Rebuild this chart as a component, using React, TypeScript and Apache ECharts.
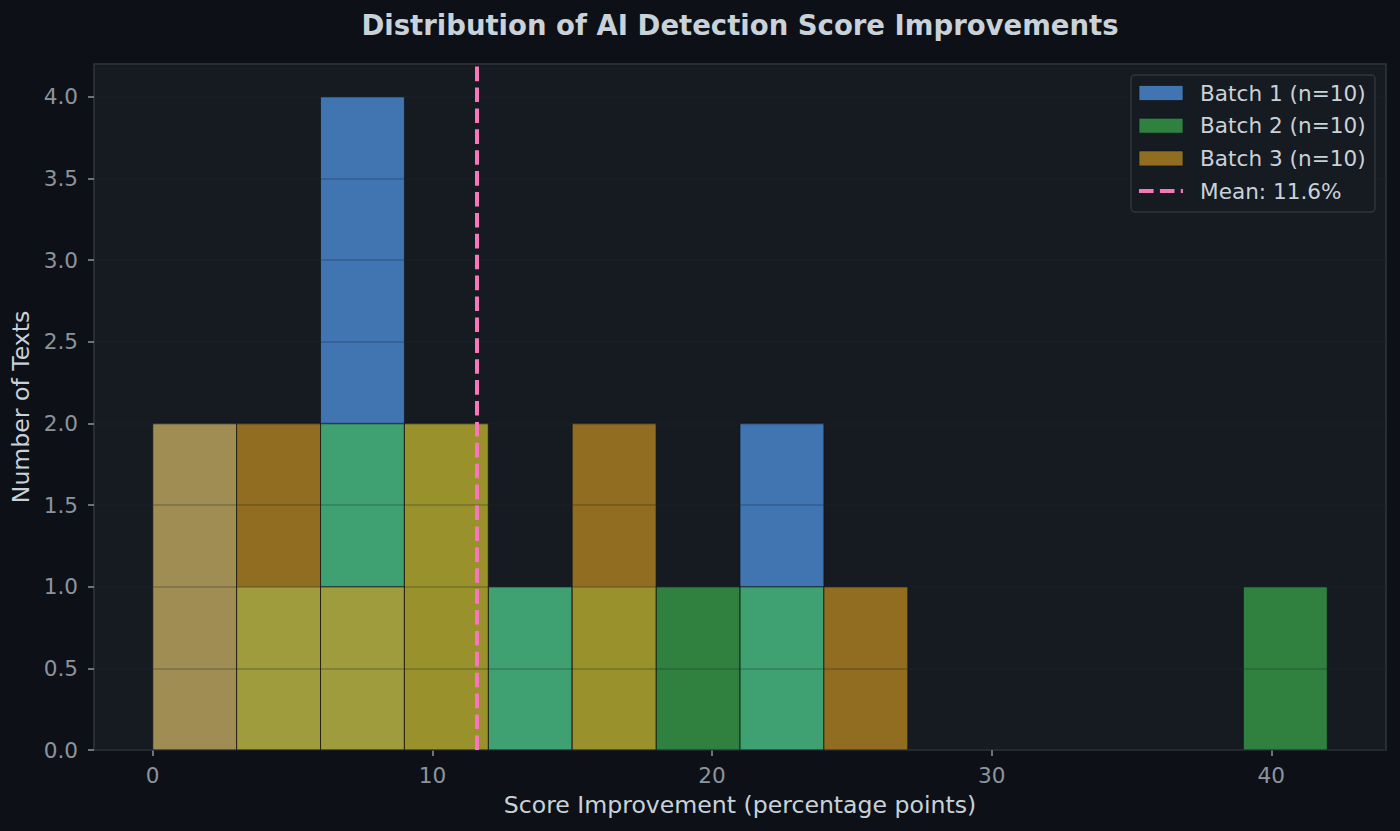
import React, { useEffect, useRef } from "react";
import * as echarts from "echarts";

// histogram bins (percentage points) and counts per batch
const binEdges = [0, 3, 6, 9, 12, 15, 18, 21, 24, 27, 30, 33, 36, 39, 42];
const batchNames = ["Batch 1 (n=10)", "Batch 2 (n=10)", "Batch 3 (n=10)"];
const batch1Counts = [2, 1, 4, 0, 1, 0, 0, 2, 0, 0, 0, 0, 0, 0];
const batch2Counts = [0, 1, 2, 2, 1, 1, 1, 1, 0, 0, 0, 0, 0, 1];
const batch3Counts = [2, 2, 1, 2, 0, 2, 0, 0, 1, 0, 0, 0, 0, 0];
const batchColors = ["#58a6ff", "#3fb950", "#d29922"];
const meanValue = 11.6;
const meanLabel = "Mean: 11.6%";
const xTicks = [0, 10, 20, 30, 40];
const yTicks = [0, 0.5, 1, 1.5, 2, 2.5, 3, 3.5, 4];

const FONT = "DejaVu Sans";
const TEXT = "#c9d1d9";
const MUTED = "#8b949e";
const BORDER = "#30363d";
const ALPHA = 0.65;
const MEAN_COLOR = "#f778ba";
const DASH = [14.6, 6.3];

const HistogramChart: React.FC = () => {
  const chartRef = useRef<HTMLDivElement>(null);

  useEffect(() => {
    if (!chartRef.current) return;
    const chart = echarts.init(chartRef.current, null, { renderer: "svg" });

    const allCounts = [batch1Counts, batch2Counts, batch3Counts];
    const barSeries = allCounts.map((counts, i) => ({
      type: "custom",
      name: batchNames[i],
      data: counts.map((n, k) => [binEdges[k], binEdges[k + 1], n]),
      encode: { x: [0, 1], y: 2 },
      renderItem: (_params: any, api: any) => {
        const n = api.value(2);
        if (!n) return null;
        const p0 = api.coord([api.value(0), n]);
        const p1 = api.coord([api.value(1), 0]);
        return {
          type: "rect",
          shape: { x: p0[0], y: p0[1], width: p1[0] - p0[0], height: p1[1] - p0[1] },
          style: { fill: batchColors[i], stroke: "#0d1117", lineWidth: 1, opacity: ALPHA },
        };
      },
    }));

    // legend drawn by hand, matplotlib style, kept above the grid lines
    const rowY = (i: number) => 93 + i * 32.7;
    const legendEls: any[] = [
      {
        type: "rect",
        z: 100,
        zlevel: 1,
        shape: { x: 1131, y: 75, width: 244, height: 137, r: 4 },
        style: { fill: "rgba(22,27,34,0.92)", stroke: BORDER, lineWidth: 1.5 },
      },
    ];
    batchNames.forEach((name, i) => {
      legendEls.push({
        type: "rect",
        z: 101,
        zlevel: 1,
        shape: { x: 1139, y: rowY(i) - 7.5, width: 44, height: 15 },
        style: { fill: batchColors[i], stroke: "#0d1117", lineWidth: 1, opacity: ALPHA },
      });
      legendEls.push({
        type: "text",
        z: 101,
        zlevel: 1,
        x: 1200,
        y: rowY(i),
        style: { text: name, fill: TEXT, font: `21.6px '${FONT}'`, verticalAlign: "middle" },
      });
    });
    legendEls.push({
      type: "line",
      z: 101,
      zlevel: 1,
      shape: { x1: 1139, y1: rowY(3), x2: 1183, y2: rowY(3) },
      style: { stroke: MEAN_COLOR, lineWidth: 4, lineDash: DASH },
    });
    legendEls.push({
      type: "text",
      z: 101,
      zlevel: 1,
      x: 1200,
      y: rowY(3),
      style: { text: meanLabel, fill: TEXT, font: `21.6px '${FONT}'`, verticalAlign: "middle" },
    });

    chart.setOption({
      animation: false,
      backgroundColor: "#0d1117",
      textStyle: { fontFamily: FONT },
      grid: {
        left: 94,
        top: 64,
        width: 1292,
        height: 686,
        show: true,
        backgroundColor: "#161b22",
        borderColor: BORDER,
        borderWidth: 1.5,
      },
      xAxis: {
        type: "value",
        min: -2.1,
        max: 44.1,
        name: "Score Improvement (percentage points)",
        nameLocation: "middle",
        nameGap: 43,
        nameTextStyle: { color: TEXT, fontSize: 23.6, fontFamily: FONT },
        axisLine: { show: false, onZero: false },
        splitLine: { show: false },
        axisTick: {
          show: true,
          length: 6,
          customValues: xTicks,
          lineStyle: { color: MUTED, width: 1.5 },
        },
        axisLabel: {
          customValues: xTicks,
          margin: 14,
          color: MUTED,
          fontSize: 21.6,
          fontFamily: FONT,
        },
      },
      yAxis: {
        type: "value",
        min: 0,
        max: 4.2,
        interval: 0.5,
        z: 5,
        name: "Number of Texts",
        nameLocation: "middle",
        nameGap: 59,
        nameTextStyle: { color: TEXT, fontSize: 23.6, fontFamily: FONT },
        axisLine: { show: false, onZero: false },
        splitLine: { show: true, lineStyle: { color: "rgba(33,38,45,0.3)", width: 1.5 } },
        axisTick: {
          show: true,
          length: 6,
          customValues: yTicks,
          lineStyle: { color: MUTED, width: 1.5 },
        },
        axisLabel: {
          customValues: yTicks,
          margin: 16,
          color: MUTED,
          fontSize: 21.6,
          fontFamily: FONT,
          formatter: (v: number) => v.toFixed(1),
        },
      },
      graphic: [
        {
          type: "text",
          x: 740,
          y: 25,
          style: {
            text: "Distribution of AI Detection Score Improvements",
            fill: TEXT,
            font: `bold 27.5px '${FONT}'`,
            align: "center",
            verticalAlign: "middle",
          },
        },
        ...legendEls,
      ],
      series: [
        ...barSeries,
        {
          type: "line",
          name: meanLabel,
          data: [],
          z: 10,
          markLine: {
            silent: true,
            symbol: ["none", "none"],
            label: { show: false },
            lineStyle: { color: MEAN_COLOR, width: 4, type: DASH },
            data: [{ xAxis: meanValue }],
          },
        },
      ],
    });

    return () => {
      chart.dispose();
    };
  }, []);

  return (
    <div
      ref={chartRef}
      style={{ position: "fixed", left: 0, top: 0, width: 1400, height: 831 }}
    />
  );
};

export default function App() {
  return <HistogramChart />;
}
